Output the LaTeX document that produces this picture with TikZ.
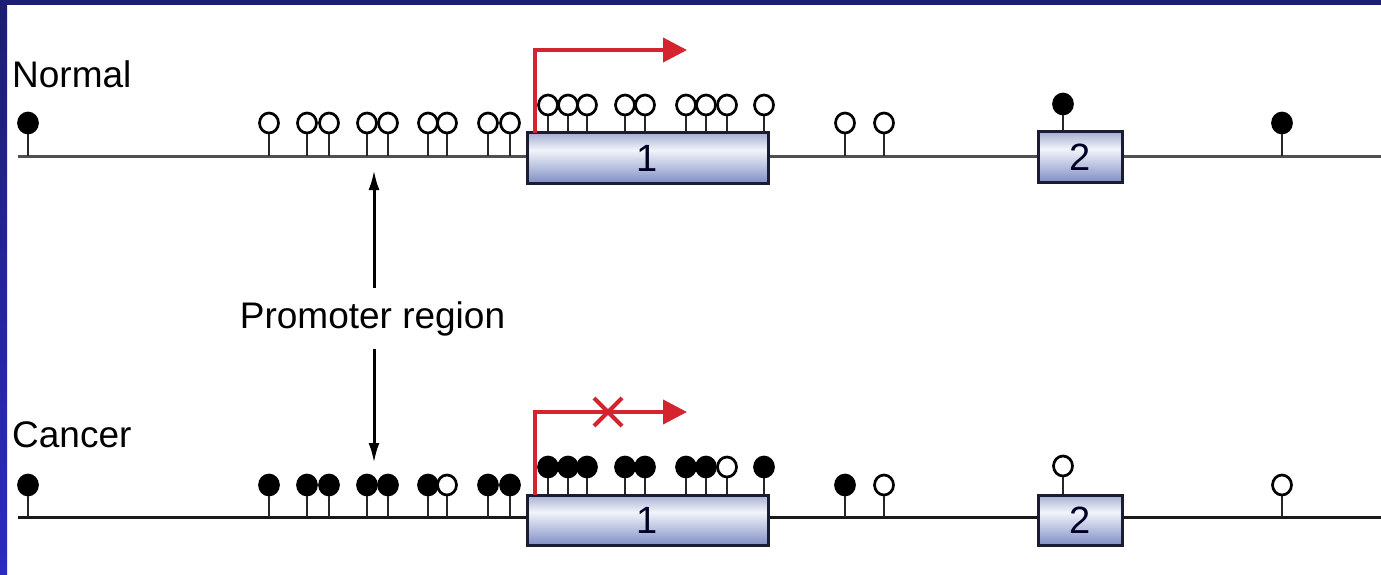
\documentclass[tikz,border=0pt]{standalone}
\usepackage{fontspec}
\setmainfont{Liberation Sans}
\usetikzlibrary{arrows.meta,shapes.geometric,shapes.misc}
\definecolor{navy}{RGB}{29,29,116}
\definecolor{bandlow}{RGB}{44,44,190}
\definecolor{redarr}{RGB}{212,36,46}
\definecolor{exbot}{RGB}{128,143,196}
\definecolor{exmid}{RGB}{242,244,250}
\definecolor{extop}{RGB}{165,175,210}
\definecolor{exline}{RGB}{25,28,50}
\definecolor{dnaline}{RGB}{80,80,80}
\pgfdeclareverticalshading{exshade}{100bp}{color(0bp)=(exbot); color(25bp)=(exbot); color(58bp)=(exmid); color(75bp)=(extop); color(100bp)=(extop)}
\tikzset{
  exon/.style={draw=exline, line width=3pt, shade, shading=exshade, minimum height=50pt, inner sep=0pt, font=\fontsize{38}{44}\selectfont, text=black!85!blue},
  pinhead/.style={ellipse, draw=black, line width=2.7pt, fill=#1, minimum width=19pt, minimum height=20pt, inner sep=0pt},
  stem/.style={line width=2.6pt, draw=black!85},
  dna/.style={line width=3pt, draw=dnaline},
  redarrow/.style={draw=redarr, line width=4pt, line join=miter, -{Triangle[length=24pt,width=24pt]}},
  blackarrow/.style={draw=black, line width=3pt, -{Latex[length=20pt,width=11pt]}},
  label/.style={font=\fontsize{37}{44}\selectfont, inner sep=0pt},
}
\begin{document}
\begin{tikzpicture}[x=1pt,y=-1pt]
\useasboundingbox (0,0) rectangle (1381,575);
% frame bands
\fill[white] (0,0) rectangle (1381,575);
\shade[top color=navy, bottom color=bandlow] (0,0) rectangle (7,575);
\fill[navy] (0,0) rectangle (1381,5);

% ---------------- Normal ----------------
\node[label, anchor=base west] (normal) at (12,88) {Normal};
\coordinate (nstart) at (18,156);
\coordinate (nend) at (1381,156);
\draw[dna] (nstart) -- (nend);
\node[exon, minimum width=241pt] (nex1) at (647.5,158) {1};
\node[exon, minimum width=84pt] (nex2) at (1080,157) {2};

% pins on the line
\foreach \x/\c [count=\i] in {28/black,269/white,307/white,329/white,367/white,388/white,428/white,447/white,488/white,510/white,845/white,884/white,1282/black}{
  \node[pinhead=\c] (np\i) at (\x,123) {};
  \draw[stem] (np\i.south) -- (np\i.south |- nstart);
}
% pins on exon 1
\foreach \x/\c [count=\i] in {548/white,568/white,587/white,625/white,645/white,686/white,706/white,727/white,764/white}{
  \node[pinhead=\c] (nq\i) at (\x,105) {};
  \draw[stem] (nq\i.south) -- (nq\i.south |- nex1.north);
}
% pin on exon 2
\node[pinhead=black] (nr1) at (1063,104) {};
\draw[stem] (nr1.south) -- (nr1.south |- nex2.north);

% transcription arrow
\coordinate (ntss) at (535,133);
\coordinate (ntip) at (687,50);
\draw[redarrow] (ntss) |- (ntip);

% ---------------- Promoter region ----------------
\node[label, anchor=base, inner ysep=13pt] (promo) at (372.5,328) {Promoter region};
\coordinate (pup) at (374,170);
\coordinate (pdown) at (374,463);
\draw[blackarrow] (promo.north -| pup) -- (pup);
\draw[blackarrow] (promo.south -| pdown) -- (pdown);

% ---------------- Cancer ----------------
\node[label, anchor=base west] (cancer) at (12,447) {Cancer};
\coordinate (cstart) at (18,517);
\coordinate (cend) at (1381,517);
\draw[dna, draw=black!90] (cstart) -- (cend);
\node[exon, minimum width=241pt] (cex1) at (647.5,520) {1};
\node[exon, minimum width=84pt] (cex2) at (1080,520) {2};

\foreach \x/\c [count=\i] in {28/black,269/black,307/black,329/black,367/black,388/black,428/black,447/white,488/black,510/black,845/black,884/white,1282/white}{
  \node[pinhead=\c] (cp\i) at (\x,485) {};
  \draw[stem] (cp\i.south) -- (cp\i.south |- cstart);
}
\foreach \x/\c [count=\i] in {548/black,568/black,587/black,625/black,645/black,686/black,706/black,727/white,764/black}{
  \node[pinhead=\c] (cq\i) at (\x,467) {};
  \draw[stem] (cq\i.south) -- (cq\i.south |- cex1.north);
}
\node[pinhead=white] (cr1) at (1063,466) {};
\draw[stem] (cr1.south) -- (cr1.south |- cex2.north);

\coordinate (ctss) at (535,495);
\coordinate (ctip) at (687,412);
\draw[redarrow] (ctss) |- (ctip);
\node[cross out, draw=redarr, line width=4pt, minimum size=24pt, inner sep=0pt] (block) at (608,412) {};
\end{tikzpicture}
\end{document}
